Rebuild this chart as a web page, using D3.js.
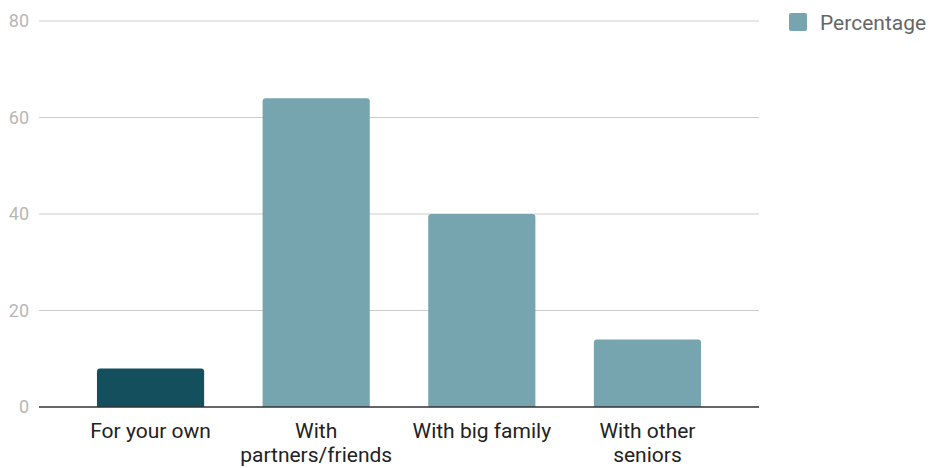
<!DOCTYPE html>
<html>
<head>
<meta charset="utf-8">
<script src="https://cdn.jsdelivr.net/npm/d3@7"></script>
<style>
  html, body { margin: 0; padding: 0; background: #fff; }
  svg { display: block; font-family: Roboto, "Noto Sans", sans-serif; }
</style>
</head>
<body>
<svg id="chart" width="931" height="468"></svg>
<script>
const categories = ["For your own", "With partners/friends", "With big family", "With other seniors"];
const values = [8, 64, 40, 14];
const barColors = ["#134f5c", "#76a5af", "#76a5af", "#76a5af"];
const yTicks = [0, 20, 40, 60, 80];
const seriesName = "Percentage";

const svg = d3.select("#chart");
const plotLeft = 39, plotRight = 759, plotTop = 21, plotBottom = 407;

const x = d3.scaleBand().domain(categories).range([plotLeft, plotRight]).paddingInner(0.353).paddingOuter(0.35);
const y = d3.scaleLinear().domain([0, 80]).range([plotBottom, plotTop]);

// gridlines
svg.append("g").selectAll("line").data(yTicks.filter(d => d !== 0)).join("line")
  .attr("x1", plotLeft).attr("x2", plotRight)
  .attr("y1", d => y(d)).attr("y2", d => y(d))
  .attr("stroke", "#cccccc").attr("stroke-width", 1);

// y tick labels
svg.append("g").selectAll("text").data(yTicks).join("text")
  .attr("x", 29).attr("y", d => y(d)).attr("dy", "0.36em")
  .attr("text-anchor", "end")
  .attr("font-size", 18).attr("fill", "#b7b7b7")
  .text(d => d);

// bars with rounded top corners
function barPath(x0, w, yTop, yBot, r) {
  r = Math.min(r, (yBot - yTop), w / 2);
  return `M${x0},${yBot}V${yTop + r}Q${x0},${yTop} ${x0 + r},${yTop}H${x0 + w - r}Q${x0 + w},${yTop} ${x0 + w},${yTop + r}V${yBot}Z`;
}
svg.append("g").selectAll("path").data(categories).join("path")
  .attr("d", (d, i) => barPath(x(d), x.bandwidth(), y(values[i]), y(0), 3))
  .attr("fill", (d, i) => barColors[i]);

// baseline
svg.append("line").attr("x1", plotLeft).attr("x2", plotRight)
  .attr("y1", y(0)).attr("y2", y(0))
  .attr("stroke", "#333333").attr("stroke-width", 1.5);

// x labels with word wrap
const xAxis = svg.append("g");
categories.forEach(cat => {
  const cx = x(cat) + x.bandwidth() / 2;
  const t = xAxis.append("text")
    .attr("x", cx).attr("y", 438)
    .attr("text-anchor", "middle").attr("font-size", 21).attr("fill", "#222222");
  const words = cat.split(" ");
  let line = [];
  let tspan = t.append("tspan").attr("x", cx).attr("dy", 0);
  words.forEach(w => {
    line.push(w);
    tspan.text(line.join(" "));
    if (tspan.node().getComputedTextLength() > x.step() && line.length > 1) {
      line.pop();
      tspan.text(line.join(" "));
      line = [w];
      tspan = t.append("tspan").attr("x", cx).attr("dy", 24).text(w);
    }
  });
});

// legend
const lg = svg.append("g");
lg.append("rect").attr("x", 789).attr("y", 13).attr("width", 18).attr("height", 18)
  .attr("rx", 2).attr("fill", "#76a5af");
lg.append("text").attr("x", 820).attr("y", 22).attr("dy", "0.36em")
  .attr("font-size", 21).attr("fill", "#666666").text(seriesName);
</script>
</body>
</html>
